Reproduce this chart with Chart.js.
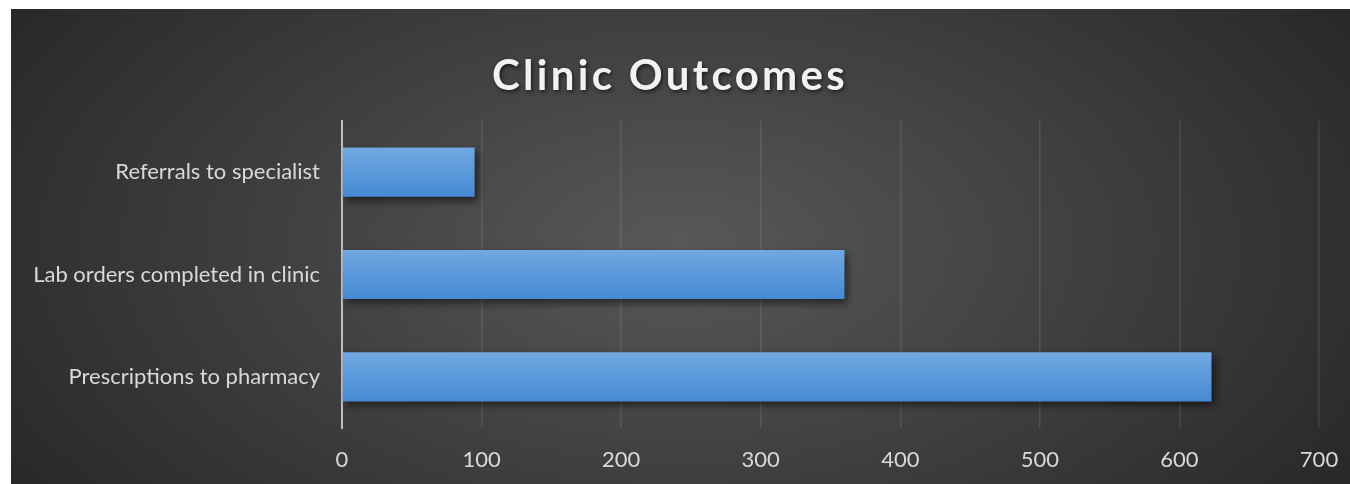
<!DOCTYPE html>
<html>
<head>
<meta charset="utf-8">
<script src="https://cdn.jsdelivr.net/npm/chart.js@4/dist/chart.umd.min.js"></script>
<style>
  html, body { margin: 0; padding: 0; background: #ffffff; }
  #wrap { position: absolute; left: 11px; top: 9px; width: 1339px; height: 475px; }
</style>
</head>
<body>
<div id="wrap"><canvas id="outcomesChart"></canvas></div>
<script>
// Dữ liệu biểu đồ
const chartTitle = 'Clinic Outcomes';
const categories = ['Referrals to specialist', 'Lab orders completed in clinic', 'Prescriptions to pharmacy'];
const outcomeValues = [95, 360, 623];
const xTicks = [0, 100, 200, 300, 400, 500, 600, 700];

const labelColor = '#d9d9d9';
const fontFamily = 'Lato, "Open Sans", sans-serif';

// Nền tối với gradient tỏa tròn
const bgPlugin = {
    id: 'darkBg',
    beforeDraw(chart) {
        const { ctx, width, height } = chart;
        ctx.save();
        ctx.translate(width * 0.5, height * 0.5);
        ctx.scale(1, 0.55);
        const g = ctx.createRadialGradient(0, 0, 0, 0, 0, width * 0.62);
        g.addColorStop(0, '#585858');
        g.addColorStop(1, '#262626');
        ctx.fillStyle = g;
        ctx.fillRect(-width, -height * 2, width * 2, height * 4);
        ctx.restore();
    }
};

// Bóng đổ cho các thanh
const shadowPlugin = {
    id: 'barShadow',
    beforeDatasetsDraw(chart) {
        const ctx = chart.ctx;
        ctx.save();
        ctx.shadowColor = 'rgba(0,0,0,0.55)';
        ctx.shadowBlur = 8;
        ctx.shadowOffsetX = 3;
        ctx.shadowOffsetY = 4;
    },
    afterDatasetsDraw(chart) {
        chart.ctx.restore();
    }
};

// Tiêu đề có bóng chữ
const titlePlugin = {
    id: 'shadowTitle',
    afterDraw(chart) {
        const ctx = chart.ctx;
        ctx.save();
        ctx.font = 'bold 42px ' + fontFamily;
        ctx.letterSpacing = '3.3px';
        ctx.textAlign = 'center';
        ctx.textBaseline = 'alphabetic';
        ctx.shadowColor = 'rgba(0,0,0,0.6)';
        ctx.shadowBlur = 4;
        ctx.shadowOffsetX = 1.5;
        ctx.shadowOffsetY = 2;
        ctx.fillStyle = '#f2f2f2';
        ctx.fillText(chartTitle, 659, 81);
        ctx.restore();
    }
};

function barGradient(context) {
    const chart = context.chart;
    const yScale = chart.scales.y;
    if (!chart.chartArea || !yScale || context.dataIndex === undefined) return '#5b9bd5';
    const yc = yScale.getPixelForValue(context.dataIndex);
    if (!Number.isFinite(yc)) return '#5b9bd5';
    const g = chart.ctx.createLinearGradient(0, yc - 25, 0, yc + 25);
    g.addColorStop(0, '#71a9e2');
    g.addColorStop(1, '#4689d3');
    return g;
}

const ctx = document.getElementById('outcomesChart').getContext('2d');
new Chart(ctx, {
    type: 'bar',
    data: {
        labels: categories,
        datasets: [{
            label: chartTitle,
            data: outcomeValues,
            backgroundColor: barGradient,
            borderWidth: 0,
            barPercentage: 0.48,
            categoryPercentage: 1
        }]
    },
    options: {
        indexAxis: 'y',
        responsive: true,
        maintainAspectRatio: false,
        animation: false,
        layout: { padding: { top: 112, right: 31, bottom: 0, left: 0 } },
        plugins: {
            legend: { display: false },
            title: { display: false },
            tooltip: { enabled: false }
        },
        scales: {
            x: {
                min: 0,
                max: 700,
                afterFit(scale) {
                    // cố định chiều cao trục và bỏ phần đệm tự động của nhãn cuối
                    scale.height = 56;
                    scale.paddingRight = 0;
                    scale.paddingLeft = 0;
                },
                afterBuildTicks(scale) { scale.ticks = xTicks.map(v => ({ value: v })); },
                grid: { color: 'rgba(255,255,255,0.1)', lineWidth: 1.5, drawTicks: false },
                border: { display: false },
                ticks: { color: labelColor, padding: 19, font: { family: fontFamily, size: 22 } }
            },
            y: {
                z: 1,
                afterFit(scale) { scale.width = 331; },
                grid: { display: false, drawTicks: false },
                border: { display: true, color: '#bfbfbf', width: 2 },
                ticks: { color: labelColor, padding: 22, font: { family: fontFamily, size: 22 } }
            }
        }
    },
    plugins: [bgPlugin, shadowPlugin, titlePlugin]
});
</script>
</body>
</html>
